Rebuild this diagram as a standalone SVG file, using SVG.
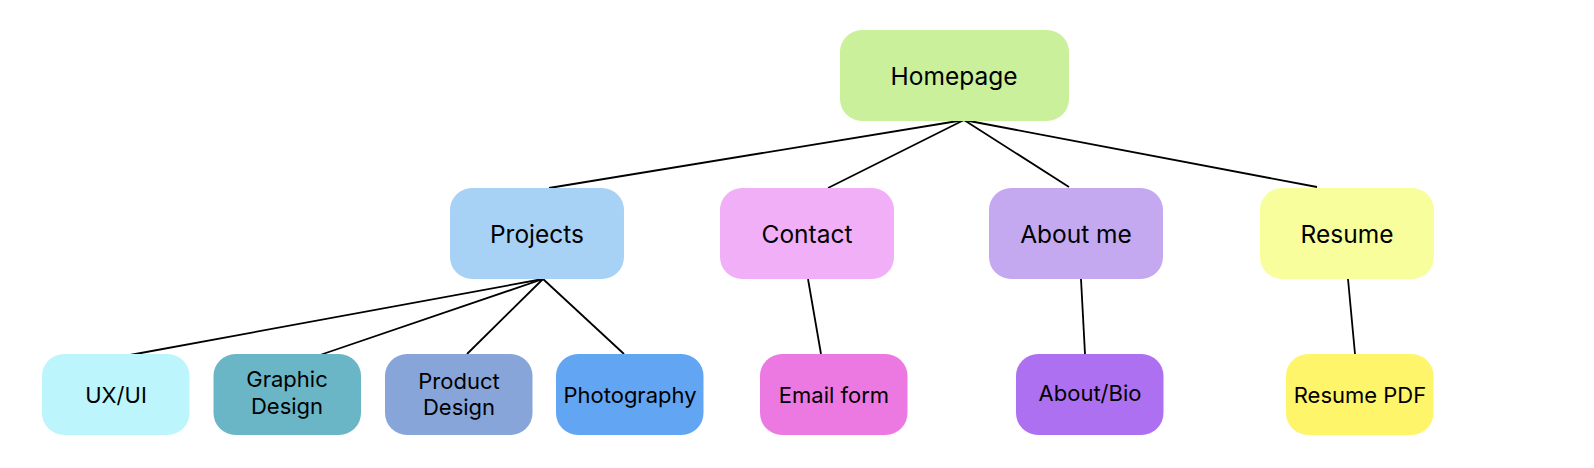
<svg xmlns="http://www.w3.org/2000/svg" width="1594" height="468" viewBox="0 0 1594 468">
<style>
.n rect{stroke:none}
.big{font-family:Inter,"Liberation Sans",sans-serif;font-size:24.5px;fill:#000;text-anchor:middle}
.sm{font-family:Inter,"Liberation Sans",sans-serif;font-size:22px;fill:#000;text-anchor:middle}
#connectors line{stroke:#000;stroke-width:1.8;fill:none}
</style>
<rect width="1594" height="468" fill="#fff"/>
<g id="connectors">
<line x1="964" y1="120" x2="549" y2="188"/>
<line x1="964" y1="120" x2="828" y2="188"/>
<line x1="964" y1="120" x2="1069" y2="187"/>
<line x1="964" y1="120" x2="1317" y2="187"/>
<line x1="543" y1="279" x2="130" y2="355"/>
<line x1="543" y1="279" x2="320" y2="355"/>
<line x1="543" y1="279" x2="467" y2="354"/>
<line x1="543" y1="279" x2="624" y2="354"/>
<line x1="808" y1="279" x2="821" y2="354"/>
<line x1="1081" y1="279" x2="1085" y2="354"/>
<line x1="1348" y1="279" x2="1355" y2="354"/>
</g>
<g id="homepage" class="n"><rect x="840" y="30" width="229" height="91" rx="22" fill="#CAF09B"/><text class="big" x="954" y="85">Homepage</text></g>
<g id="projects" class="n"><rect x="450" y="188" width="174" height="91" rx="22" fill="#A8D2F5"/><text class="big" x="537" y="243">Projects</text></g>
<g id="contact" class="n"><rect x="720" y="188" width="174" height="91" rx="22" fill="#F1AFF8"/><text class="big" x="807" y="243">Contact</text></g>
<g id="aboutme" class="n"><rect x="989" y="188" width="174" height="91" rx="22" fill="#C4A9F1"/><text class="big" x="1076" y="243">About me</text></g>
<g id="resume" class="n"><rect x="1260" y="188" width="174" height="91" rx="22" fill="#F7FE9B"/><text class="big" x="1347" y="243">Resume</text></g>
<g id="uxui" class="n"><rect x="42" y="354" width="147.5" height="81" rx="22" fill="#BCF6FC"/><text class="sm" x="116" y="402.5">UX/UI</text></g>
<g id="graphic" class="n"><rect x="213.5" y="354" width="147.5" height="81" rx="22" fill="#6AB5C6"/><text class="sm" x="287" y="386.5">Graphic</text><text class="sm" x="287" y="413.5">Design</text></g>
<g id="product" class="n"><rect x="385" y="354" width="147.5" height="81" rx="22" fill="#87A5D9"/><text class="sm" x="459" y="388.5">Product</text><text class="sm" x="459" y="415">Design</text></g>
<g id="photography" class="n"><rect x="556" y="354" width="147.5" height="81" rx="22" fill="#62A5F2"/><text class="sm" x="630" y="403">Photography</text></g>
<g id="email" class="n"><rect x="760" y="354" width="147.5" height="81" rx="22" fill="#EC78E1"/><text class="sm" x="834" y="402.5">Email form</text></g>
<g id="aboutbio" class="n"><rect x="1016" y="354" width="147.5" height="81" rx="22" fill="#AD70F1"/><text class="sm" x="1090" y="401">About/Bio</text></g>
<g id="resumepdf" class="n"><rect x="1286" y="354" width="147.5" height="81" rx="22" fill="#FEF56B"/><text class="sm" x="1360" y="402.5">Resume PDF</text></g>
</svg>
